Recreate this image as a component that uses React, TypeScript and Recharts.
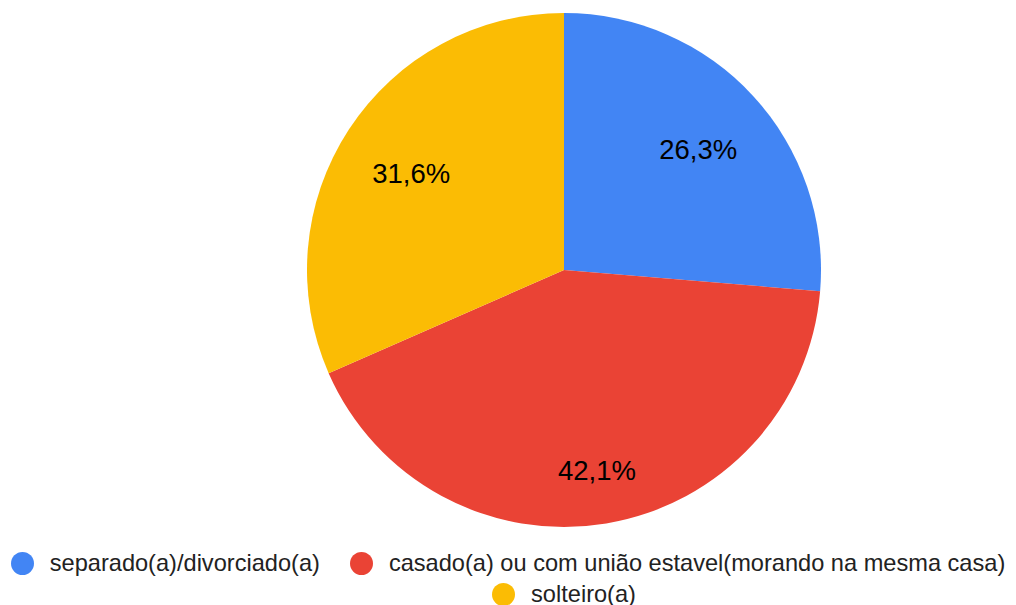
import { PieChart, Pie, Cell, Legend } from 'recharts';

const categories = [
  'separado(a)/divorciado(a)',
  'casado(a) ou com união estavel(morando na mesma casa)',
  'solteiro(a)',
];
const counts = [5, 8, 6];
const colors = ['#4285F4', '#EA4335', '#FBBC04'];
// legend rows as Google lays them out
const legendRows = [[0, 1], [2]];

const data = categories.map((name, i) => ({ name, value: counts[i] }));

const RADIAN = Math.PI / 180;
const FONT = 'Liberation Sans, Arial, sans-serif';

const renderLabel = (props: any) => {
  const { cx, cy, midAngle, outerRadius, percent } = props;
  // big slices get their label pushed a bit further out, like the original
  const r = outerRadius * (percent > 0.4 ? 0.78 : 0.71);
  const x = cx + r * Math.cos(-midAngle * RADIAN);
  const y = cy + r * Math.sin(-midAngle * RADIAN) + 3;
  const text = (percent * 100).toFixed(1).replace('.', ',') + '%';
  return (
    <text
      x={x}
      y={y}
      fill='#000'
      textAnchor='middle'
      dominantBaseline='central'
      fontSize={27.5}
      fontFamily={FONT}
    >
      {text}
    </text>
  );
};

const renderLegend = () => (
  <div style={{ fontFamily: FONT, fontSize: 23.6, color: '#222', width: 1016 }}>
    {legendRows.map((row, ri) => (
      <div
        key={ri}
        style={{
          display: 'flex',
          justifyContent: 'center',
          gap: 30,
          height: 31,
          alignItems: 'center',
          whiteSpace: 'nowrap',
          paddingLeft: ri === 1 ? 112 : 0,
        }}
      >
        {row.map((i) => (
          <div key={i} style={{ display: 'flex', alignItems: 'center' }}>
            <span
              style={{
                display: 'inline-block',
                width: 23,
                height: 23,
                borderRadius: '50%',
                background: colors[i],
                marginRight: 16,
              }}
            />
            <span>{categories[i]}</span>
          </div>
        ))}
      </div>
    ))}
  </div>
);

export default function App() {
  return (
    <div style={{ position: 'absolute', left: 0, top: 0, background: '#fff' }}>
      <PieChart
        width={1016}
        height={605}
        margin={{ top: 0, right: 0, bottom: 0, left: 0 }}
      >
        <Pie
          data={data}
          dataKey='value'
          nameKey='name'
          cx={564}
          cy={270}
          outerRadius={257}
          startAngle={90}
          endAngle={-270}
          stroke='none'
          label={renderLabel}
          labelLine={false}
          isAnimationActive={false}
        >
          {data.map((d, i) => (
            <Cell key={d.name} fill={colors[i]} />
          ))}
        </Pie>
        <Legend
          content={renderLegend}
          wrapperStyle={{ left: 0, top: 548, width: 1016 }}
        />
      </PieChart>
    </div>
  );
}
